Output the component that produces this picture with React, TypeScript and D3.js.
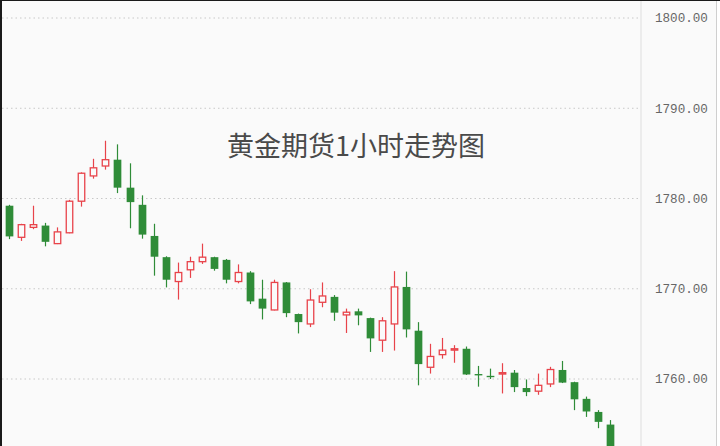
import React from "react";
import * as d3 from "d3";

// 1-hour gold futures candles (left to right)
const opens = [
  1779.2, 1775.7, 1776.8, 1777.0, 1775.0, 1776.2, 1779.7, 1782.5, 1783.6, 1784.3,
  1781.2, 1779.3, 1775.85, 1773.5, 1770.8, 1772.1, 1773.0, 1773.5, 1773.2, 1770.8,
  1771.8, 1768.9, 1767.65, 1770.7, 1767.2, 1766.1, 1768.5, 1769.1, 1767.1, 1767.5,
  1766.75, 1764.3, 1766.1, 1770.2, 1765.35, 1761.3, 1762.7, 1763.2, 1763.35, 1760.55,
  1760.35, 1760.55, 1760.7, 1759.0, 1758.65, 1759.45, 1761.0, 1759.65, 1757.8, 1756.35,
  1754.95,
];
const highs = [
  1779.3, 1777.2, 1779.2, 1777.3, 1776.8, 1779.85, 1782.9, 1784.4, 1786.4, 1786.0,
  1783.9, 1780.35, 1777.2, 1773.6, 1772.9, 1773.55, 1775.0, 1773.55, 1773.3, 1772.7,
  1771.95, 1771.0, 1771.0, 1770.75, 1767.25, 1769.95, 1770.7, 1769.3, 1767.8, 1767.8,
  1766.8, 1766.85, 1771.95, 1771.9, 1766.3, 1763.9, 1764.55, 1763.75, 1763.6, 1761.45,
  1761.15, 1761.75, 1761.0, 1759.95, 1760.6, 1761.35, 1762.0, 1759.7, 1758.05, 1756.55,
  1755.45,
];
const lows = [
  1775.5, 1775.3, 1776.6, 1774.7, 1774.95, 1776.15, 1779.1, 1782.2, 1783.2, 1780.6,
  1776.7, 1775.55, 1771.45, 1770.15, 1768.8, 1771.2, 1772.75, 1772.0, 1770.6, 1770.6,
  1768.3, 1766.6, 1767.6, 1766.85, 1765.05, 1765.75, 1767.95, 1766.45, 1765.1, 1765.95,
  1763.0, 1763.0, 1763.15, 1764.6, 1759.3, 1760.6, 1762.25, 1761.8, 1760.45, 1759.15,
  1760.0, 1758.4, 1758.55, 1758.1, 1758.25, 1759.1, 1759.55, 1756.55, 1755.8, 1754.55,
  1751.6,
];
const closes = [
  1775.8, 1777.1, 1777.1, 1775.2, 1776.3, 1779.7, 1782.8, 1783.4, 1784.3, 1781.2,
  1779.6, 1776.0, 1773.55, 1771.0, 1771.8, 1773.0, 1773.5, 1772.2, 1771.0, 1771.8,
  1768.6, 1767.8, 1770.7, 1767.3, 1766.3, 1768.75, 1769.2, 1767.35, 1767.4, 1767.05,
  1764.5, 1766.45, 1770.2, 1765.5, 1761.65, 1762.5, 1763.2, 1763.35, 1760.5, 1760.4,
  1760.2, 1760.7, 1759.1, 1758.55, 1759.3, 1761.05, 1759.6, 1757.75, 1756.4, 1755.25,
  1752.0,
];
const priceTicks = [1800, 1790, 1780, 1770, 1760];
const title = "黄金期货1小时走势图";

const W = 720;
const H = 446;
const axisX = 641;
const UP = "#e8434a";
const DOWN = "#2f8c38";
const BG = "#fafafa";

export default function App() {
  const idx = opens.map((_, i) => i);

  const x = d3
    .scaleBand<number>()
    .domain(idx)
    .range([3.3, 616.3])
    .paddingInner(0.36)
    .paddingOuter(0.18);

  const y = d3.scaleLinear().domain([1760, 1800]).range([379, 18]);

  return (
    <svg
      width={W}
      height={H}
      style={{ position: "absolute", left: 0, top: 0, display: "block" }}
    >
      <rect x={0} y={0} width={W} height={H} fill={BG} />

      {/* dotted grid */}
      {priceTicks.map((t) => (
        <line
          key={t}
          x1={2}
          x2={axisX}
          y1={y(t)}
          y2={y(t)}
          stroke="#c8c8c8"
          strokeWidth={1}
          strokeDasharray="1.5,3"
        />
      ))}

      <text
        x={356}
        y={149}
        textAnchor="middle"
        dominantBaseline="middle"
        fontFamily="'Noto Sans CJK SC', sans-serif"
        fontSize={27}
        fill="#4a4a4a"
      >
        {title}
      </text>

      {/* candles */}
      <g>
        {idx.map((i) => {
          const o = opens[i];
          const c = closes[i];
          const up = c >= o;
          const cx = Math.round(x(i)! + x.bandwidth() / 2) + 0.5;
          const bw = x.bandwidth();
          const top = y(Math.max(o, c));
          const bot = y(Math.min(o, c));
          const bh = Math.max(1, bot - top);
          const col = up ? UP : DOWN;
          return (
            <g key={i}>
              <line
                x1={cx}
                x2={cx}
                y1={y(highs[i])}
                y2={y(lows[i])}
                stroke={col}
                strokeWidth={1.2}
              />
              {up ? (
                <rect
                  x={cx - bw / 2 + 0.6}
                  y={top}
                  width={bw - 1.2}
                  height={bh}
                  fill={BG}
                  stroke={col}
                  strokeWidth={1.3}
                />
              ) : (
                <rect
                  x={cx - bw / 2}
                  y={top}
                  width={bw}
                  height={bh}
                  fill={col}
                />
              )}
            </g>
          );
        })}
      </g>

      {/* right price axis */}
      <line x1={axisX} x2={axisX} y1={0} y2={H} stroke="#dedede" strokeWidth={1} />
      <line x1={716.5} x2={716.5} y1={0} y2={H} stroke="#cfcfcf" strokeWidth={1} />
      <rect x={717} y={0} width={3} height={H} fill="#ffffff" />
      {priceTicks.map((t) => (
        <text
          key={t}
          x={655}
          y={y(t) + 1}
          dominantBaseline="middle"
          fontFamily="'Liberation Mono', monospace"
          fontSize={12.6}
          fill="#666"
        >
          {t.toFixed(2)}
        </text>
      ))}

      {/* dark frame edges */}
      <rect x={0} y={0} width={2} height={H} fill="#1a1a1a" />
      <rect x={0} y={0} width={W} height={1} fill="#1a1a1a" />
    </svg>
  );
}
